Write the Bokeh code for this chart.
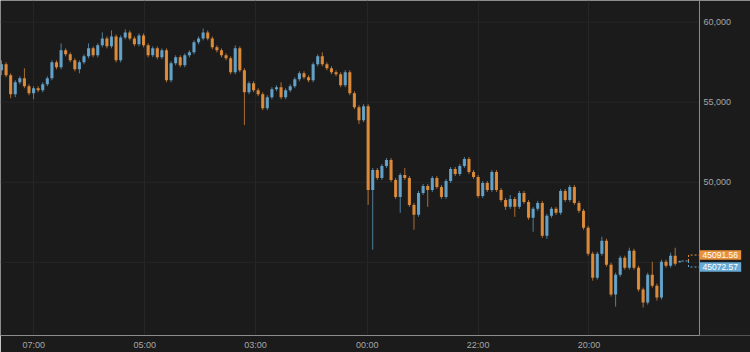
from bokeh.plotting import figure
from bokeh.models import Range1d, FixedTicker, ColumnDataSource
from bokeh.core.properties import value
from bokeh.embed import file_html
from bokeh.resources import INLINE

OPEN = [56992, 57366, 56681, 55498, 56245, 56494, 55996, 55560, 55871, 55747,
        56120, 56494, 57490, 57179, 58238, 57988, 57615, 57054, 57490, 57864,
        58362, 57926, 58549, 58985, 58487, 59109, 57615, 59047, 59358, 58985,
        58611, 59171, 58549, 57926, 58362, 57802, 58238, 56370, 57428, 57802,
        57304, 57926, 58113, 58736, 58985, 59358, 58985, 58424, 58238, 57926,
        57739, 56868, 58362, 56992, 55622, 56183, 55747, 55498, 54626, 55311,
        55809, 55934, 55311, 55747, 55996, 56432, 56805, 56556, 56370, 57366,
        57864, 57366, 57117, 56868, 56743, 56058, 56868, 55560, 54688, 53879,
        54751, 49520, 50766, 50267, 51014, 51388, 50143, 49084, 50454, 50267,
        48586, 47964, 49333, 49769, 49520, 50267, 49707, 49084, 50080, 50827,
        50516, 51014, 51450, 50641, 50329, 49146, 49956, 49520, 50641, 49520,
        48898, 48462, 48959, 48462, 49333, 48773, 47776, 48337, 48711, 46655,
        47901, 48337, 48088, 49458, 48898, 49707, 48711, 48212, 47154, 45535,
        44041, 45535, 46345, 44850, 42982, 44228, 45286, 44663, 45722, 44663,
        43294, 42484, 44228, 43543, 42795, 45037, 44787, 45410, 45010]

CLOSE = [57366, 56681, 55498, 56245, 56494, 55996, 55560, 55871, 55747, 56120,
         56494, 57490, 57179, 58238, 57988, 57615, 57054, 57490, 57864, 58362,
         57926, 58549, 58985, 58487, 59109, 57615, 59047, 59358, 58985, 58611,
         59171, 58549, 57926, 58362, 57802, 58238, 56370, 57428, 57802, 57304,
         57926, 58113, 58736, 58985, 59358, 58985, 58424, 58238, 57926, 57739,
         56868, 58362, 56992, 55622, 56183, 55747, 55498, 54626, 55311, 55809,
         55934, 55311, 55747, 55996, 56432, 56805, 56556, 56370, 57366, 57864,
         57366, 57117, 56868, 56743, 56058, 56868, 55560, 54688, 53879, 54751,
         49520, 50766, 50267, 51014, 51388, 50143, 49084, 50454, 50267, 48586,
         47964, 49333, 49769, 49520, 50267, 49707, 49084, 50080, 50827, 50516,
         51014, 51450, 50641, 50329, 49146, 49956, 49520, 50641, 49520, 48898,
         48462, 48959, 48462, 49333, 48773, 47776, 48337, 48711, 46655, 47901,
         48337, 48088, 49458, 48898, 49707, 48711, 48212, 47154, 45535, 44041,
         45535, 46345, 44850, 42982, 44228, 45286, 44663, 45722, 44663, 43294,
         42484, 44228, 43543, 42795, 45037, 44787, 45410, 44912, 45072.57]

HIGH = [57615, 57490, 56805, 56370, 56619, 57117, 56120, 55996, 55996, 56245,
        56619, 57615, 57615, 58673, 58362, 58113, 57739, 57615, 57988, 58673,
        58487, 58673, 59358, 59109, 59483, 59234, 59171, 59545, 59483, 59109,
        59296, 59296, 58673, 58487, 58487, 58362, 58362, 57553, 57926, 57926,
        58051, 58238, 58860, 59109, 59607, 59483, 59109, 58549, 58362, 58051,
        57864, 58549, 58487, 57117, 56307, 56307, 55871, 55622, 55436, 55934,
        56058, 56245, 55871, 56120, 56556, 56930, 56930, 56681, 57490, 57988,
        58113, 57490, 57241, 56992, 56868, 56992, 56992, 55685, 54813, 54875,
        54875, 50890, 50890, 51139, 51512, 51512, 50267, 50578, 50890, 50392,
        48711, 49458, 49893, 49893, 50392, 50392, 49832, 50205, 50952, 50952,
        51139, 51575, 51575, 50766, 50454, 50080, 50080, 50766, 50766, 49644,
        49022, 49209, 49084, 49458, 49458, 48898, 48462, 48835, 48835, 48025,
        48462, 48462, 49582, 49582, 49832, 49832, 48835, 48337, 47279, 45659,
        45659, 46593, 46470, 44974, 44352, 45410, 45410, 45909, 45847, 44787,
        43418, 44352, 45037, 43667, 45162, 45162, 45597, 45909, 45110]

LOW = [56681, 56556, 55249, 55311, 56120, 55871, 55436, 55186, 55622, 55622,
       55996, 56370, 57054, 57054, 57864, 57490, 56930, 56805, 57366, 57739,
       57802, 57802, 58424, 58362, 58362, 57490, 57490, 58922, 58860, 58487,
       58487, 58424, 57802, 57802, 57677, 57677, 56245, 56245, 57304, 57179,
       57179, 57802, 57988, 58611, 58860, 58860, 58300, 58113, 57802, 57615,
       56743, 56743, 56868, 53568, 55498, 55622, 55373, 54502, 54502, 55186,
       55686, 55186, 55186, 55622, 55871, 56307, 56432, 56245, 56245, 57241,
       57241, 56992, 56743, 56619, 55934, 55934, 55436, 54564, 53630, 53755,
       48586, 45784, 50143, 50143, 50890, 50018, 48959, 48088, 50143, 48462,
       47030, 47839, 49209, 48462, 49395, 49582, 48959, 48959, 49956, 50392,
       50392, 50890, 50516, 50205, 49022, 49022, 49395, 49395, 49395, 48773,
       48275, 48337, 47839, 48337, 48648, 47652, 46905, 48212, 46531, 46470,
       47776, 47964, 47964, 48773, 48773, 48586, 48088, 47030, 45410, 43854,
       43916, 45410, 44725, 42858, 42235, 44103, 44539, 44539, 44539, 43169,
       42173, 42360, 43418, 42608, 42671, 44663, 44663, 44787, 44980]

TICK_LABELS = ["07:00", "05:00", "03:00", "00:00", "22:00", "20:00"]
TICK_POS = [7.05, 31.27, 55.42, 79.8, 104.0, 128.17]
Y_TICKS = [45000, 50000, 55000, 60000]
Y_TICK_LABELS = ["", "50,000", "55,000", "60,000"]
PRICE_ORANGE = 45091.56
PRICE_BLUE = 45072.57

ORANGE = "#e8913c"
BLUE = "#68aad3"
BG = "#1b1b1b"
AXIS = "#8c8c8c"
GRID = "#262626"
TXT = "#a6a6a6"
FONT = value("Liberation Sans")

n = len(CLOSE)
xs = list(range(n))
colors = [BLUE if c >= o else ORANGE for o, c in zip(OPEN, CLOSE)]
src = ColumnDataSource(dict(
    x=xs, open=OPEN, close=CLOSE, high=HIGH, low=LOW,
    top=[max(o, c) for o, c in zip(OPEN, CLOSE)],
    bottom=[min(o, c) for o, c in zip(OPEN, CLOSE)],
    color=colors,
))

X0 = -0.218
X_AXIS = 152.3      # where the price axis sits
X_FULL = 163.43     # right edge of the canvas
Y0, Y1 = 40428, 61351

p = figure(width=750, height=352, output_backend="svg", toolbar_location=None,
           x_range=Range1d(X0, X_FULL), y_range=Range1d(Y0, Y1),
           y_axis_location=None,
           min_border_left=0, min_border_top=0, min_border_right=0, min_border_bottom=16)
p.background_fill_color = BG
p.border_fill_color = BG
p.outline_line_color = None

# horizontal grid lines (stop at the price axis)
p.segment(x0=[X0] * len(Y_TICKS), x1=[X_AXIS] * len(Y_TICKS), y0=Y_TICKS, y1=Y_TICKS,
          line_color=GRID, line_width=1)
for g in p.ygrid:
    g.visible = False

p.segment(x0="x", y0="high", x1="x", y1="low", source=src, color="color",
          line_width=1, line_alpha=0.7)
p.vbar(x="x", width=0.68, top="top", bottom="bottom", source=src,
       fill_color="color", line_color=None, fill_alpha=0.9)

# price axis line and its labels
p.segment(x0=[X_AXIS], x1=[X_AXIS], y0=[Y0], y1=[Y1], line_color=AXIS, line_width=1)
p.text(x=[X_AXIS] * len(Y_TICKS), y=Y_TICKS, text=Y_TICK_LABELS, x_offset=4,
       text_baseline="middle", text_align="left", text_font=FONT,
       text_font_size="9px", text_color=TXT)

# connector to price tags
last_x = xs[-1]
mid = (PRICE_ORANGE + PRICE_BLUE) / 2
tag_o = mid + 370
tag_b = mid - 375
half = 295
tag_w = 9.1
jx = 149.9
p.line([last_x + 0.4, jx], [mid, mid], line_color=BLUE, line_dash="2 2", line_width=1)
p.line([jx, jx, X_AXIS], [mid, tag_o, tag_o], line_color=ORANGE, line_dash="2 2", line_width=1)
p.line([jx, jx, X_AXIS], [mid, tag_b, tag_b], line_color=BLUE, line_dash="2 2", line_width=1)

p.quad(left=[X_AXIS, X_AXIS], right=[X_AXIS + tag_w] * 2,
       top=[tag_o + half, tag_b + half], bottom=[tag_o - half, tag_b - half],
       fill_color=[ORANGE, BLUE], line_color=None)
p.text(x=[X_AXIS + tag_w / 2] * 2, y=[tag_o, tag_b],
       text=[f"{PRICE_ORANGE:.2f}", f"{PRICE_BLUE:.2f}"],
       text_align="center", text_baseline="middle", text_font=FONT,
       text_font_size="8.5px", text_color="#ffffff")

# time axis
p.xgrid.ticker = FixedTicker(ticks=TICK_POS)
p.xgrid.grid_line_color = GRID
xa = p.xaxis[0]
xa.ticker = FixedTicker(ticks=TICK_POS)
xa.major_label_overrides = {t: l for t, l in zip(TICK_POS, TICK_LABELS)}
xa.bounds = (X0, X_AXIS)
xa.axis_line_color = AXIS
xa.major_tick_line_color = None
xa.minor_tick_line_color = None
xa.major_tick_out = 0
xa.major_tick_in = 0
xa.major_label_standoff = 4
xa.major_label_text_color = TXT
xa.major_label_text_font = "Liberation Sans"
xa.major_label_text_font_size = "9px"

open("out.html", "w").write(file_html(p, INLINE))
